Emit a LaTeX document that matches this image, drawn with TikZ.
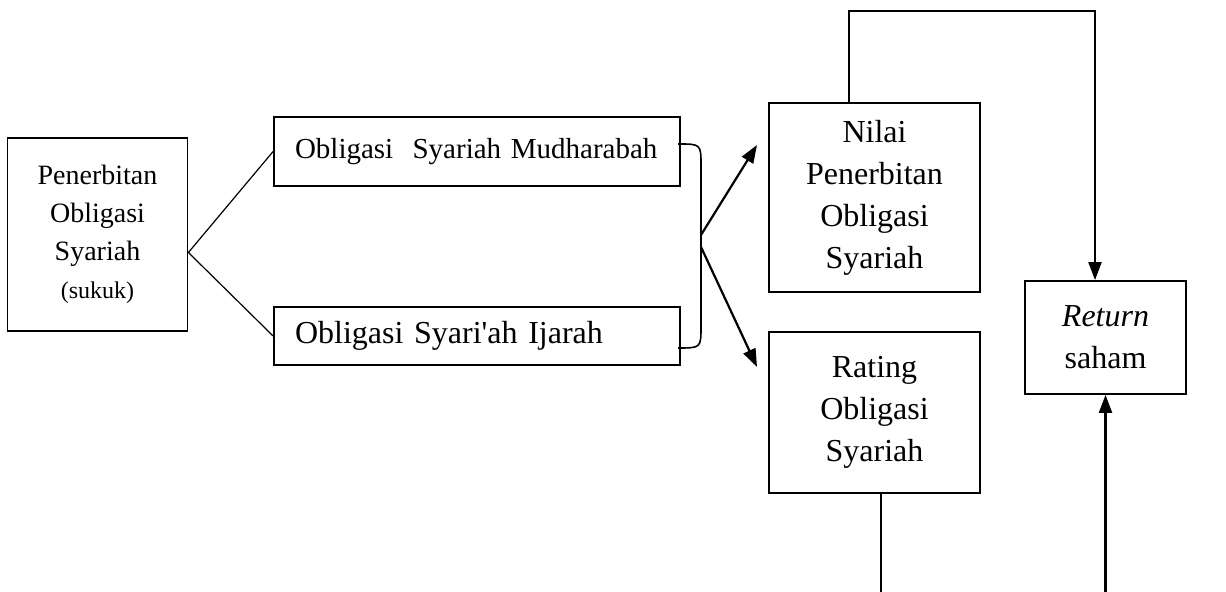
\documentclass[tikz,border=0pt]{standalone}
\usepackage{fontspec}
\setmainfont{Liberation Serif}
\usetikzlibrary{arrows.meta,positioning}

\begin{document}
\begin{tikzpicture}[x=0.5pt,y=-0.5pt,
	box/.style={draw, line width=0.9pt, inner sep=0pt, align=center, font=\fontsize{16}{21}\selectfont},
	arr/.style={line width=1.1pt, -{Triangle[length=9pt,width=6.5pt]}},
	thin line/.style={line width=0.6pt}]
	
	\useasboundingbox (0,0) rectangle (1226,592);
	
	% Boxes
	\node[box, minimum width=90pt, minimum height=96.5pt, font=\fontsize{14}{19}\selectfont] (pen) at (97.5,234.5) {Penerbitan\\Obligasi\\Syariah\\{\fontsize{12}{19}\selectfont (sukuk)}};
	\node[box, minimum width=203pt, minimum height=34.5pt, text width=182pt, align=left, font=\fontsize{14.5}{19}\selectfont] (mud) at (477,151.5) {Obligasi\ \ Syariah Mudharabah};
	\node[box, minimum width=203pt, minimum height=29pt, text width=182pt, align=left] (ija) at (477,336) {Obligasi Syari\textquotesingle ah Ijarah};
	\node[box, minimum width=105.5pt, minimum height=94.5pt] (nilai) at (874.5,197.5) {Nilai\\Penerbitan\\Obligasi\\Syariah};
	\node[box, minimum width=105.5pt, minimum height=80.5pt] (rating) at (874.5,412.5) {Rating\\Obligasi\\Syariah};
	\node[box, minimum width=80.5pt, minimum height=56.5pt] (ret) at (1105.5,337.5) {\textit{Return}\\saham};
	
	% Fork from the first box
	\coordinate (fork) at ([yshift=-9pt]pen.east);
	\draw[thin line] (mud.west) -- (fork) -- (ija.west);
	
	% Brace joining both bond types
	\coordinate (braceTop) at (678,144);
	\coordinate (braceBot) at (678,348);
	\draw[line width=0.8pt] (braceTop) .. controls (701,144) .. (701,166) -- (701,326) .. controls (701,348) .. (braceBot);
	
	% Arrows to the variables
	\coordinate (splitA) at (701,235);
	\coordinate (splitB) at (701,247);
	\coordinate (tipA) at (757,145);
	\coordinate (tipB) at (757,367);
	\draw[arr] (splitA) -- (tipA);
	\draw[arr] (splitB) -- (tipB);
	
	% Loop over the top to the return box
	\coordinate (loopTop) at (1095,11);
	\draw[arr] ([xshift=-12.75pt]nilai.north) |- (loopTop) -- ([xshift=-5.25pt]ret.north);
	
	% Lines from the bottom edge
	\coordinate (ratingFoot) at (881,600);
	\coordinate (retFoot) at (1105.5,600);
	\draw[line width=0.9pt] (rating.south -| ratingFoot) -- (ratingFoot);
	\draw[arr] (retFoot) -- (ret.south);
\end{tikzpicture}
\end{document}
